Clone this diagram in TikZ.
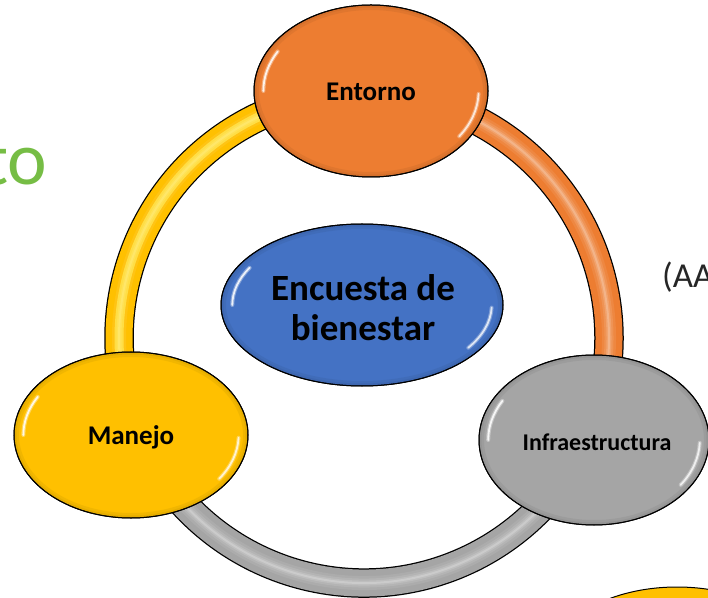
\documentclass[tikz,border=0pt]{standalone}
\usepackage{fontspec}
\setmainfont{Carlito}
\usetikzlibrary{shapes.geometric}
\definecolor{cOrange}{HTML}{ED7D31}
\definecolor{cGold}{HTML}{FFC000}
\definecolor{cGray}{HTML}{A5A5A5}
\definecolor{cBlue}{HTML}{4472C4}
\definecolor{cGreen}{RGB}{118,189,69}
\definecolor{cText}{HTML}{262626}
\newcommand\glossblob[4]{%
  \begin{scope}
    \clip (#1) ellipse[x radius=#2, y radius=#3];
    \draw[line width=10pt, #4!65!black, opacity=.15] (#1) ellipse[x radius=#2, y radius=#3];
    \draw[line width=5pt, #4!65!black, opacity=.15] (#1) ellipse[x radius=#2, y radius=#3];
  \end{scope}
  \draw[white, line width=4pt, opacity=.35, line cap=round]
    (#1) ++(150:{0.92*#2} and {0.92*#3}) arc[start angle=150, end angle=180, x radius={0.92*#2}, y radius={0.92*#3}];
  \draw[white, line width=1.8pt, opacity=.85, line cap=round]
    (#1) ++(150:{0.92*#2} and {0.92*#3}) arc[start angle=150, end angle=180, x radius={0.92*#2}, y radius={0.92*#3}];
  \draw[white, line width=4pt, opacity=.3, line cap=round]
    (#1) ++(-35:{0.92*#2} and {0.92*#3}) arc[start angle=-35, end angle=-2, x radius={0.92*#2}, y radius={0.92*#3}];
  \draw[white, line width=1.8pt, opacity=.75, line cap=round]
    (#1) ++(-35:{0.92*#2} and {0.92*#3}) arc[start angle=-35, end angle=-2, x radius={0.92*#2}, y radius={0.92*#3}];
  \draw[black, line width=1pt] (#1) ellipse[x radius=#2, y radius=#3];
}
\begin{document}
\begin{tikzpicture}[x=1pt,y=1pt,
  blob/.style={ellipse, draw=black, line width=1pt, inner sep=0pt},
  lbl/.style={font=\bfseries\fontsize{27}{32}\selectfont, text=black}]
\useasboundingbox (0,0) rectangle (708,597);
\clip (0,0) rectangle (708,597);

% partial texts at the edges
\node[anchor=base west, text=cGreen, font=\fontsize{75}{80}\selectfont, inner sep=0pt] (txto) at (-17,412) {to};
\node[anchor=base west, text=cText, font=\fontsize{35}{40}\selectfont, inner sep=0pt] (txaa) at (662,309) {(AA};

% ring
\coordinate (O) at (364,259);
\foreach \c/\a/\b in {cGold/90/203, cOrange/-24/90, cGray/203/336}{
  \draw[line width=29.5pt, black] (O) ++(\a:245) arc[start angle=\a, end angle=\b, radius=245];
  \draw[line width=27pt, \c] (O) ++(\a:245) arc[start angle=\a, end angle=\b, radius=245];
  \foreach \w/\o in {14/.08, 9/.1, 5/.14, 2/.2}{
    \draw[line width=\w pt, white, opacity=\o] (O) ++(\a:245) arc[start angle=\a, end angle=\b, radius=245];
  }
}
\draw[line width=9pt, yellow!60!white, opacity=.45] (O) ++(95:245) arc[start angle=95, end angle=198, radius=245];

% ellipses
\node[blob, fill=cOrange, minimum width=234pt, minimum height=172pt] (ent) at (371,506) {};
\glossblob{ent.center}{117}{86}{cOrange}
\node[lbl] (entt) at (371,505) {Entorno};

\node[blob, fill=cGold, minimum width=234pt, minimum height=166pt] (man) at (131,162) {};
\glossblob{man.center}{117}{83}{cGold}
\node[lbl] (mant) at (131,160) {Manejo};

\node[blob, fill=cGray, minimum width=230pt, minimum height=170pt] (inf) at (594,157) {};
\glossblob{inf.center}{115}{85}{cGray}
\node[lbl, font=\bfseries\fontsize{24}{28}\selectfont] (inft) at (597,155) {Infraestructura};

\node[blob, fill=cBlue, minimum width=282pt, minimum height=162pt] (enc) at (362,292) {};
\glossblob{enc.center}{141}{81}{cBlue}
\node[align=center, font=\bfseries\fontsize{37}{40}\selectfont, text=black] (enct) at (363,289) {Encuesta de\\bienestar};

% partial ellipse bottom right
\draw[fill=cGold, line width=1pt] (677,-70) ellipse[x radius=130, y radius=80];
\end{tikzpicture}
\end{document}
